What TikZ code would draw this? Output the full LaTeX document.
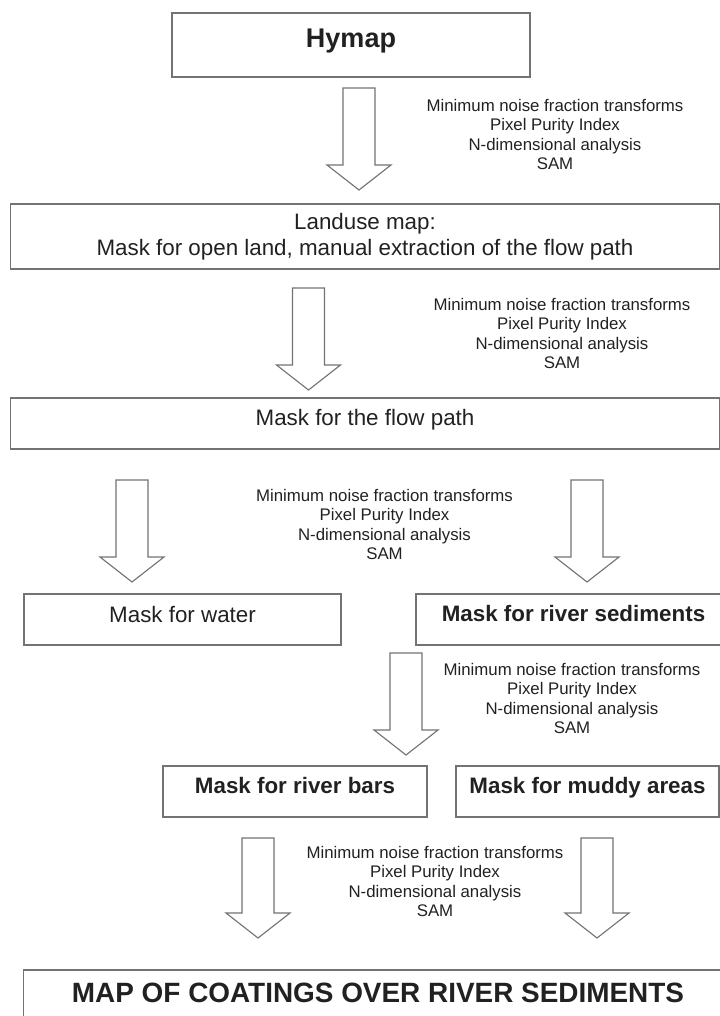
\documentclass[tikz,border=0pt]{standalone}
\usepackage{fontspec}
\setmainfont{Liberation Sans}
\usetikzlibrary{calc}

\definecolor{linegray}{gray}{0.45}
\definecolor{inkgray}{gray}{0.13}

\newcommand{\methods}{Minimum noise fraction transforms\\Pixel Purity Index\\N-dimensional analysis\\SAM}
\newcommand{\fatarrow}[2]{%
  \draw[arrowline] ($(#1)+(-16,0)$) -- ($(#2)+(-16,-25)$) -- ($(#2)+(-32,-25)$) -- (#2)
    -- ($(#2)+(32,-25)$) -- ($(#2)+(16,-25)$) -- ($(#1)+(16,0)$) -- cycle;}

\begin{document}
\begin{tikzpicture}[x=0.025cm,y=-0.025cm,
    flowbox/.style={draw=linegray, line width=0.8pt, text=inkgray, inner sep=0pt,
      font=\fontsize{15.9}{18.5}\selectfont},
    boldbox/.style={flowbox, font=\fontsize{15.9}{18.5}\selectfont\bfseries},
    methods/.style={text=inkgray, align=center, inner sep=0pt,
      font=\fontsize{11.95}{13.9}\selectfont},
    arrowline/.style={draw=linegray, line width=0.8pt, fill=white}]
  \useasboundingbox (0,0) rectangle (720,1016);
  \clip (0,0) rectangle (720,1016);

  % boxes
  \node[flowbox, font=\fontsize{19.2}{22}\selectfont\bfseries, minimum width=8.95cm,
    minimum height=1.6cm, text height=13.7pt, text depth=9.5pt] (hymap) at (351,45) {Hymap};
  \node[flowbox, align=center, minimum width=17.7cm, minimum height=1.625cm] (landuse) at (365,236.5)
    {Landuse map:\\Mask for open land, manual extraction of the flow path};
  \node[flowbox, minimum width=17.7cm, minimum height=1.275cm, text height=11.4pt,
    text depth=9.2pt] (flowpath) at (365,423.5) {Mask for the flow path};
  \node[flowbox, minimum width=7.925cm, minimum height=1.275cm, text height=11.4pt,
    text depth=7.8pt] (water) at (182.5,619.5) {Mask for water};
  \node[boldbox, minimum width=7.875cm, minimum height=1.275cm, text height=11.4pt,
    text depth=8.5pt] (sediments) at (573.5,619.5) {Mask for river sediments};
  \node[boldbox, minimum width=6.6cm, minimum height=1.275cm, text height=11.4pt,
    text depth=8.5pt] (bars) at (295,791.5) {Mask for river bars};
  \node[boldbox, minimum width=6.575cm, minimum height=1.275cm, text height=11.4pt,
    text depth=8.5pt] (muddy) at (587.5,791.5) {Mask for muddy areas};
  \node[flowbox, font=\fontsize{19.85}{23}\selectfont\bfseries, minimum width=17.7cm,
    minimum height=1.6cm, text height=14.2pt, text depth=12.8pt] (coatings) at (378,1002)
    {MAP OF COATINGS OVER RIVER SEDIMENTS};

  % block arrows
  \foreach \n/\x/\t/\b in {a/359/88/190, b/308.5/288/390, c/132/480/582, d/587/480/582,
      e/406/653/755, f/258/838/938, g/597/838/938} {
    \coordinate (\n top) at (\x,\t);
    \coordinate (\n tip) at (\x,\b);
    \fatarrow{\n top}{\n tip}
  }

  % method lists
  \node[methods] (step1) at (555,134.4) {\methods};
  \node[methods] (step2) at (562,333.4) {\methods};
  \node[methods] (step3) at (384.5,524.4) {\methods};
  \node[methods] (step4) at (572,698.4) {\methods};
  \node[methods] (step5) at (435,881.4) {\methods};
\end{tikzpicture}
\end{document}
